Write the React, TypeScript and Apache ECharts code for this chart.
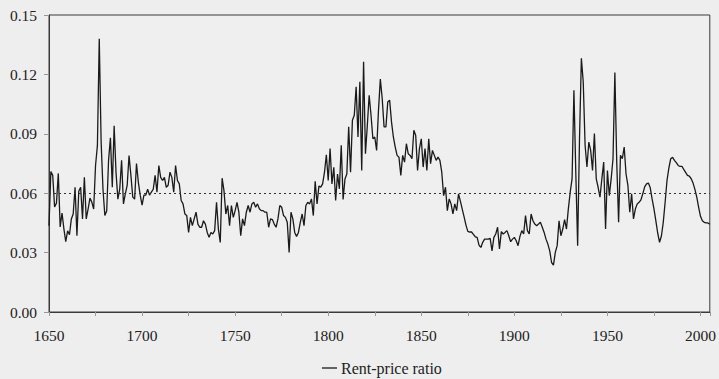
import React, { useEffect, useRef } from "react";
import * as echarts from "echarts";

const startYear = 1650;
const ratio: number[] = [
  // 1650-1692
  0.0436, 0.071, 0.069, 0.053, 0.055, 0.070, 0.043, 0.050, 0.042, 0.0355,
  0.041, 0.039, 0.047, 0.0495, 0.063, 0.0385, 0.061, 0.063, 0.047, 0.068,
  0.047, 0.052, 0.0575, 0.0555, 0.052, 0.074, 0.084, 0.138, 0.086, 0.062,
  0.0487, 0.051, 0.0766, 0.088, 0.063, 0.094, 0.0706, 0.057, 0.062, 0.0766,
  0.0546, 0.0597, 0.064,
  // 1693-1735
  0.079, 0.069, 0.058, 0.057, 0.075, 0.0655, 0.059,
  0.054, 0.059, 0.059, 0.062, 0.059, 0.0605, 0.062, 0.069, 0.0605, 0.074,
  0.068, 0.0664, 0.068, 0.063, 0.064, 0.0706, 0.068, 0.0605, 0.074, 0.0664,
  0.0647, 0.0563, 0.0546, 0.0495, 0.0487, 0.0402, 0.0478, 0.0436, 0.047, 0.0504,
  0.0444, 0.0428, 0.0428, 0.0461, 0.0444, 0.0402,
  // 1736-1782
  0.0377, 0.0402, 0.0394, 0.0411,
  0.0554, 0.0419, 0.0351, 0.0676, 0.0613, 0.0495, 0.0538, 0.0436, 0.0538, 0.0478,
  0.0512, 0.0554, 0.0504, 0.0385, 0.047, 0.0436, 0.0504, 0.0538, 0.0504, 0.0546,
  0.0554, 0.0529, 0.0546, 0.0521, 0.0512, 0.0512, 0.0504, 0.0504, 0.0428, 0.047,
  0.0467, 0.0444, 0.0428, 0.047, 0.0538, 0.0529, 0.0487, 0.0478, 0.0453, 0.0301,
  0.0504, 0.047, 0.0402,
  // 1783-1828
  0.0382, 0.0402, 0.0453, 0.0495, 0.0436, 0.0538, 0.0554,
  0.0546, 0.0571, 0.0487, 0.066, 0.0546, 0.0636, 0.0631, 0.0647, 0.0706, 0.0794,
  0.0664, 0.0825, 0.0647, 0.0731, 0.0563, 0.0697, 0.0622, 0.0842, 0.0568, 0.0672,
  0.0697, 0.0935, 0.0706, 0.0968, 0.0994, 0.1137, 0.0884, 0.1163, 0.0715, 0.1264,
  0.0799, 0.094, 0.1095, 0.0994, 0.0875, 0.0884, 0.0816, 0.1017, 0.1176,
  // 1829-1871
  0.1078,
  0.0935, 0.0935, 0.1061, 0.107, 0.096, 0.0884, 0.0833, 0.0791, 0.0782, 0.069,
  0.0791, 0.0757, 0.085, 0.0799, 0.0791, 0.0774, 0.0918, 0.0892, 0.0715, 0.0825,
  0.0875, 0.0732, 0.0825, 0.0715, 0.0875, 0.0749, 0.0816, 0.0791, 0.0766, 0.0782,
  0.0766, 0.0706, 0.0588, 0.063, 0.0512, 0.0571, 0.0546, 0.0495, 0.0546, 0.0512,
  0.0597, 0.056,
  // 1872-1916
  0.052, 0.048, 0.0439, 0.0407, 0.0404, 0.0404, 0.0392, 0.038,
  0.0377, 0.0338, 0.0326, 0.0352, 0.0368, 0.0368, 0.0368, 0.0372, 0.0309, 0.0377,
  0.0394, 0.0428, 0.0318, 0.0406, 0.0394, 0.0402, 0.0411, 0.0385, 0.0355, 0.0368,
  0.0377, 0.036, 0.0335, 0.0382, 0.0411, 0.0394, 0.0487, 0.0411, 0.0394, 0.0495,
  0.0461, 0.0444, 0.0436, 0.0444, 0.0453, 0.0428, 0.0402,
  // 1917-1964
  0.0368, 0.0343, 0.0309,
  0.025, 0.0237, 0.0301, 0.0335, 0.0461, 0.0385, 0.0419, 0.0466, 0.0419, 0.0521,
  0.0605, 0.0672, 0.112, 0.0706, 0.0335, 0.0875, 0.1281, 0.1163, 0.0842, 0.0732,
  0.0858, 0.0816, 0.0715, 0.0901, 0.0672, 0.063, 0.058, 0.0672, 0.0757, 0.0419,
  0.0715, 0.0588, 0.0672, 0.0774, 0.121, 0.0757, 0.0453, 0.0791, 0.0774, 0.0833,
  0.0697, 0.0639, 0.0504, 0.0597, 0.047,
  // 1965-2005
  0.052, 0.0546, 0.0554, 0.0566, 0.0597,
  0.0632, 0.0647, 0.0651, 0.0627, 0.0571, 0.0521, 0.0461, 0.0399, 0.0352, 0.0384,
  0.0453, 0.0554, 0.0664, 0.0727, 0.0774, 0.0781, 0.0766, 0.0754, 0.074, 0.0735,
  0.0736, 0.072, 0.0705, 0.069, 0.0686, 0.0673, 0.0651, 0.0619, 0.058, 0.0529,
  0.0483, 0.0461, 0.0453, 0.045, 0.045, 0.0443,
];
const averageRatio = 0.06;
const xTickLabels = [1650, 1700, 1750, 1800, 1850, 1900, 1950, 2000];
const seriesName = "Rent-price ratio";

const FONT = "Liberation Serif";

export default function App() {
  const ref = useRef<HTMLDivElement>(null);
  useEffect(() => {
    document.body.style.margin = "0";
    const chart = echarts.init(ref.current!, null, { renderer: "svg" });
    const data = ratio.map((v, i) => [startYear + i, v]);
    chart.setOption({
      animation: false,
      backgroundColor: "#eeeeee",
      textStyle: { fontFamily: FONT },
      grid: { left: 49, right: 4, top: 15, bottom: 67, show: true, borderColor: "#3a3a3a", borderWidth: 1, backgroundColor: "#efefef" },
      legend: {
        left: 322,
        top: 360,
        padding: 0,
        icon: "rect",
        itemWidth: 15,
        itemHeight: 1.3,
        itemGap: 4,
        textStyle: { fontFamily: FONT, fontSize: 16, color: "#222", padding: [0, 0, 0, -1] },
        data: [seriesName],
      },
      xAxis: {
        type: "value",
        min: 1650,
        max: 2005,
        interval: 25,
        axisLine: { show: true, lineStyle: { color: "#3a3a3a" } },
        axisTick: { show: true, length: 4, lineStyle: { color: "#999" } },
        splitLine: { show: false },
        axisLabel: {
          margin: 15,
          fontFamily: FONT,
          fontSize: 15.5,
          color: "#222",
          formatter: (v: number) => (xTickLabels.includes(v) ? String(v) : ""),
        },
      },
      yAxis: {
        type: "value",
        min: 0,
        max: 0.15,
        interval: 0.03,
        axisLine: { show: true, lineStyle: { color: "#3a3a3a" } },
        axisTick: { show: true, length: 5, lineStyle: { color: "#999" } },
        splitLine: { show: false },
        axisLabel: {
          margin: 12,
          fontFamily: FONT,
          fontSize: 15.5,
          color: "#222",
          formatter: (v: number) => v.toFixed(2),
        },
      },
      series: [
        {
          name: seriesName,
          type: "line",
          data,
          symbol: "none",
          lineStyle: { color: "#1a1a1a", width: 1.3 },
          itemStyle: { color: "#1a1a1a" },
          markLine: {
            silent: true,
            symbol: "none",
            label: { show: false },
            lineStyle: { color: "#333", type: [2, 3], width: 1 },
            data: [{ yAxis: averageRatio }],
          },
        },
      ],
    });
    return () => chart.dispose();
  }, []);
  return <div ref={ref} style={{ width: 719, height: 379 }} />;
}
